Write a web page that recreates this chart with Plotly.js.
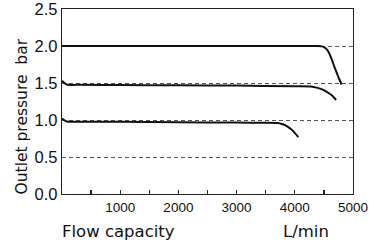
<!DOCTYPE html>
<html><head><meta charset="utf-8">
<script src="https://cdn.plot.ly/plotly-3.0.1.min.js"></script>
<style>html,body{margin:0;padding:0;background:#fff}#c{width:379px;height:243px}</style>
</head><body><div id="c"></div>
<script>
const flowTop = [0, 500, 1000, 2000, 3000, 4000, 4400, 4470, 4530, 4580, 4620, 4690, 4750, 4805];
const presTop = [2.0, 2.0, 2.0, 2.0, 2.0, 2.0, 2.0, 1.995, 1.97, 1.92, 1.85, 1.70, 1.58, 1.48];
const flowMid = [0, 80, 300, 1000, 2000, 3000, 4000, 4300, 4450, 4550, 4640, 4710];
const presMid = [1.53, 1.48, 1.475, 1.472, 1.47, 1.465, 1.455, 1.45, 1.42, 1.38, 1.33, 1.27];
const flowLow = [0, 80, 300, 1000, 2000, 3000, 3500, 3700, 3780, 3870, 3960, 4060];
const presLow = [1.02, 0.98, 0.978, 0.975, 0.97, 0.965, 0.962, 0.958, 0.945, 0.915, 0.86, 0.77];
const xTickVals = [1000, 2000, 3000, 4000, 5000];
const xTickText = ['1000', '2000', '3000', '4000', '5000'];
const xMinorVals = [500, 1000, 1500, 2000, 2500, 3000, 3500, 4000, 4500];
const yTickVals = [0, 0.5, 1.0, 1.5, 2.0, 2.5];

const line = {color: '#111', width: 2, shape: 'spline', smoothing: 0.6};
const traces = [
  {x: flowTop, y: presTop, mode: 'lines', line: line},
  {x: flowMid, y: presMid, mode: 'lines', line: line},
  {x: flowLow, y: presLow, mode: 'lines', line: line}
];
const layout = {
  width: 379, height: 243,
  margin: {l: 62, r: 26, t: 9, b: 49},
  showlegend: false,
  paper_bgcolor: '#fff', plot_bgcolor: '#fff',
  font: {family: 'Liberation Sans, Arial, sans-serif', color: '#111'},
  xaxis: {
    range: [0, 5000.5], showgrid: false, zeroline: false,
    showline: true, mirror: true, linecolor: '#222', linewidth: 1.3,
    tickmode: 'array', tickvals: xTickVals, ticktext: xTickText,
    ticks: '', tickfont: {size: 13.5}, ticklabeloverflow: 'allow'
  },
  xaxis2: {
    overlaying: 'x', anchor: 'y', matches: 'x', range: [0, 5000.5],
    showgrid: false, zeroline: false, showline: false,
    tickmode: 'array', tickvals: xMinorVals, showticklabels: false,
    ticks: 'inside', ticklen: 4, tickcolor: '#222', tickwidth: 1.3, side: 'bottom'
  },
  yaxis: {
    range: [0, 2.5], zeroline: false,
    showline: true, mirror: true, linecolor: '#222', linewidth: 1.3,
    tickmode: 'array', tickvals: yTickVals, tickformat: '.1f',
    ticks: '', tickfont: {size: 16.5}, ticklabeloverflow: 'allow',
    showgrid: true, gridcolor: '#555', gridwidth: 1, griddash: '4px,3px'
  },
  annotations: [
    {xref: 'paper', yref: 'paper', x: -0.137, y: 0.42, xanchor: 'center', yanchor: 'middle',
     textangle: -90, showarrow: false, text: 'Outlet pressure\u00a0\u00a0bar',
     font: {family: 'DejaVu Sans, sans-serif', size: 15.5, color: '#111'}},
    {xref: 'paper', yref: 'paper', x: -0.008, y: -0.205, xanchor: 'left', yanchor: 'middle',
     showarrow: false, text: 'Flow capacity',
     font: {family: 'DejaVu Sans, sans-serif', size: 16.5, color: '#111'}},
    {xref: 'paper', yref: 'paper', x: 0.752, y: -0.205, xanchor: 'left', yanchor: 'middle',
     showarrow: false, text: 'L/min',
     font: {family: 'DejaVu Sans, sans-serif', size: 16.5, color: '#111'}}
  ]
};
traces.push({x: [0], y: [0], xaxis: 'x2', mode: 'markers', marker: {opacity: 0}, hoverinfo: 'skip'});
Plotly.newPlot('c', traces, layout, {staticPlot: true, displayModeBar: false});
</script></body></html>
